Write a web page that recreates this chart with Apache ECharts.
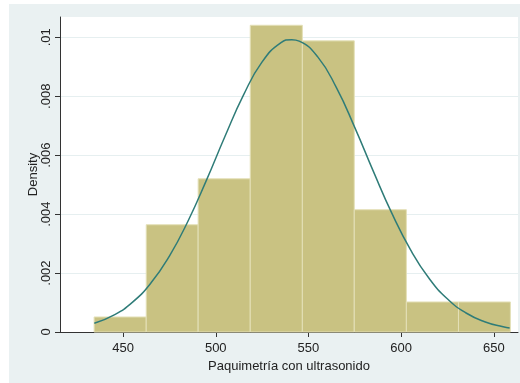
<!DOCTYPE html>
<html>
<head>
<meta charset="utf-8">
<script src="https://cdn.jsdelivr.net/npm/echarts@6/dist/echarts.min.js"></script>
<style>
  html, body { margin: 0; padding: 0; background: #fff; }
  #chart { width: 520px; height: 383px; }
</style>
</head>
<body>
<div id="chart"></div>
<script>
// histograma: limites de cada barra y su densidad
var binStart = [434.4, 462.5, 490.5, 518.6, 546.7, 574.7, 602.8, 630.9];
var binEnd   = [462.5, 490.5, 518.6, 546.7, 574.7, 602.8, 630.9, 658.9];
var density  = [0.00051, 0.00364, 0.00520, 0.01041, 0.00988, 0.00415, 0.00102, 0.00102];

// curva normal
var curveX = [434.5, 445, 455, 465, 475, 485, 495, 505, 515, 525, 535, 541,
              545, 555, 565, 575, 585, 595, 605, 615, 625, 635, 645, 655, 658.5];
var curveY = [0.000297, 0.000573, 0.001006, 0.001661, 0.002578, 0.003760, 0.005154,
              0.006643, 0.008047, 0.009165, 0.009810, 0.009920, 0.009871, 0.009336,
              0.008301, 0.006937, 0.005450, 0.004024, 0.002793, 0.001823, 0.001118,
              0.000645, 0.000349, 0.000178, 0.000138];

var xTicks = [450, 500, 550, 600, 650];
var yTicks = [0, 0.002, 0.004, 0.006, 0.008, 0.01];
var yTickLabels = ['0', '.002', '.004', '.006', '.008', '.01'];

var histData = [];
for (var i = 0; i < binStart.length; i++) {
  histData.push([binStart[i], binEnd[i], density[i]]);
}
var curveData = [];
for (var j = 0; j < curveX.length; j++) {
  curveData.push([curveX[j], curveY[j]]);
}

var myChart = echarts.init(document.getElementById('chart'));
myChart.setOption({
  animation: false,
  backgroundColor: '#fff',
  textStyle: { fontFamily: 'Liberation Sans, Arial, sans-serif' },
  graphic: [{
    type: 'rect',
    left: 9, top: 4, z: -10,
    shape: { width: 511, height: 379 },
    style: { fill: '#eaf1f2' }
  }],
  grid: {
    left: 60, right: 2, top: 17, bottom: 51,
    show: true, backgroundColor: '#fff', borderWidth: 0
  },
  xAxis: {
    type: 'value',
    min: 416, max: 663,
    name: 'Paquimetría con ultrasonido',
    nameLocation: 'middle',
    nameGap: 25,
    nameTextStyle: { color: '#222', fontSize: 13 },
    axisLine: { onZero: false, lineStyle: { color: '#333', width: 1 } },
    axisTick: { show: true, length: 5, lineStyle: { color: '#333' }, customValues: xTicks },
    axisLabel: { color: '#222', fontSize: 13, margin: 10, customValues: xTicks },
    splitLine: { show: false }
  },
  yAxis: {
    type: 'value',
    min: 0, max: 0.01069,
    name: 'Density',
    nameLocation: 'middle',
    nameGap: 20,
    nameRotate: 90,
    nameMoveOverlap: false,
    nameTextStyle: { color: '#222', fontSize: 13 },
    axisLine: { show: true, lineStyle: { color: '#333', width: 1 } },
    axisTick: { show: true, length: 5, lineStyle: { color: '#333' }, customValues: yTicks },
    axisLabel: {
      color: '#222', fontSize: 13, rotate: 90, margin: 7,
      customValues: yTicks,
      formatter: function (v) {
        for (var k = 0; k < yTicks.length; k++) {
          if (Math.abs(v - yTicks[k]) < 1e-9) return yTickLabels[k];
        }
        return '';
      }
    },
    splitLine: { show: true, lineStyle: { color: '#e6eff0', width: 1 } }
  },
  series: [
    {
      type: 'custom',
      data: histData,
      encode: { x: [0, 1], y: 2 },
      renderItem: function (params, api) {
        var p0 = api.coord([api.value(0), api.value(2)]);
        var p1 = api.coord([api.value(1), 0]);
        return {
          type: 'rect',
          shape: { x: p0[0], y: p0[1], width: p1[0] - p0[0], height: p1[1] - p0[1] },
          style: { fill: '#c9c282', stroke: '#e4e0b8', lineWidth: 1 }
        };
      },
      z: 2
    },
    {
      type: 'line',
      data: curveData,
      smooth: true,
      showSymbol: false,
      lineStyle: { color: '#2f7c78', width: 1.5 },
      z: 3
    }
  ]
});
</script>
</body>
</html>
